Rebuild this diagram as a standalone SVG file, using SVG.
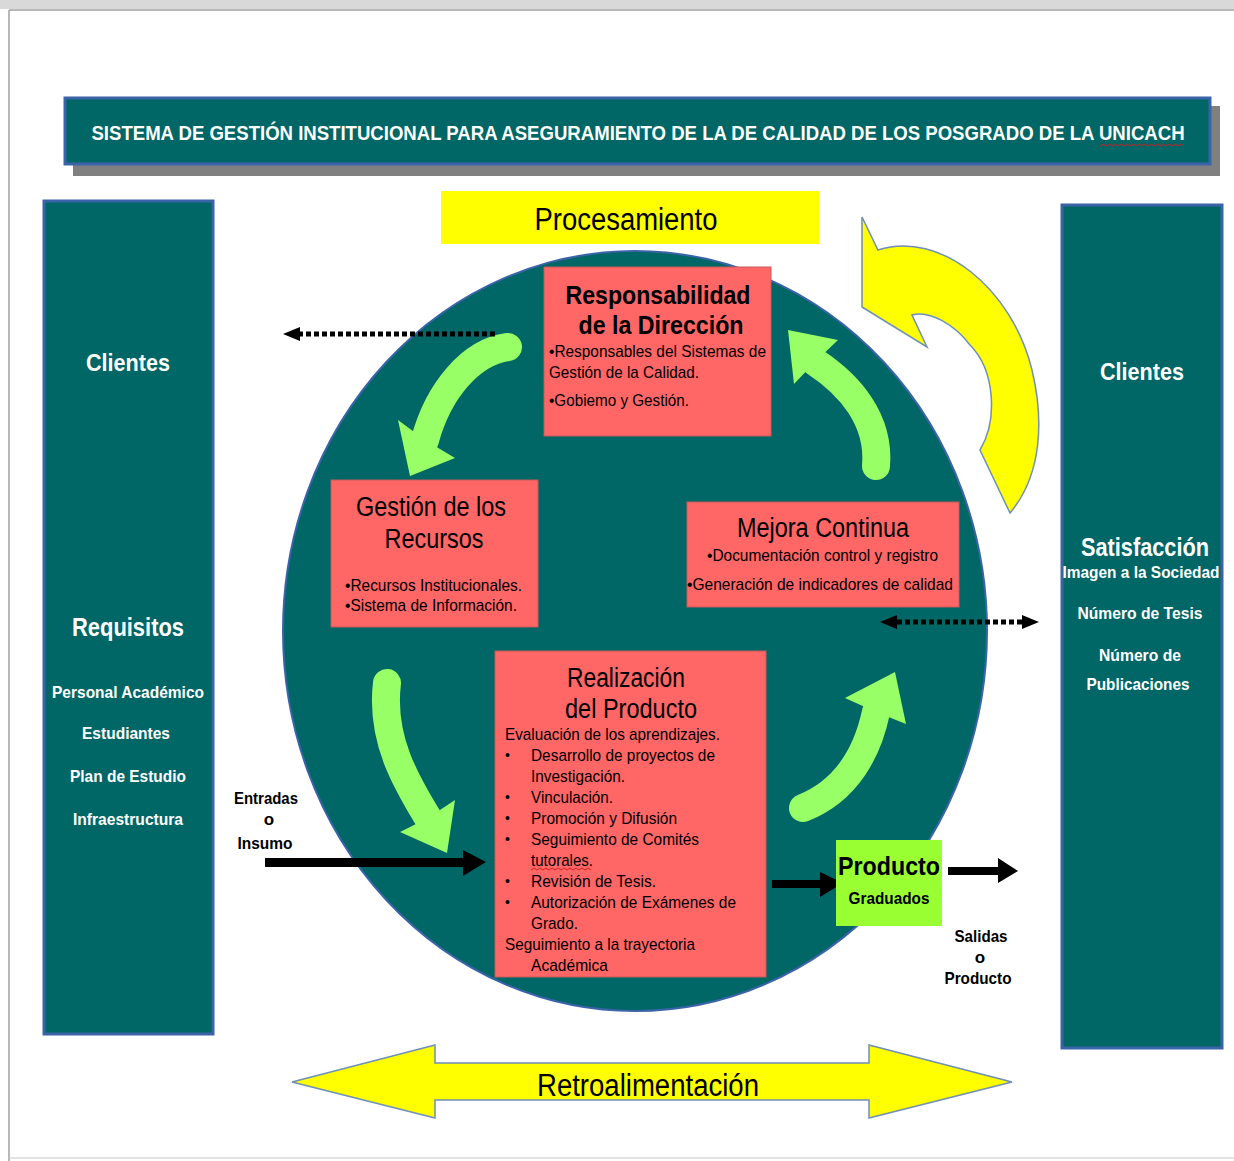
<svg xmlns="http://www.w3.org/2000/svg" width="1234" height="1161" viewBox="0 0 1234 1161">
<defs>
<style>
.panel{fill:#006666;stroke:#3b64a8;stroke-width:3}
.box{fill:#FF6666;stroke:#c85a5a;stroke-width:1}
.wb{font-family:"Liberation Sans",Arial,sans-serif;font-weight:bold;fill:#ffffff}
.kb{font-family:"Liberation Sans",Arial,sans-serif;font-weight:bold;fill:#000000}
.k{font-family:"Liberation Sans",Arial,sans-serif;fill:#000000}
.g{fill:none;stroke:#99FF66;stroke-width:28;stroke-linecap:round}
.gh{fill:#99FF66}
.dot{stroke:#000;stroke-width:5;stroke-dasharray:5 3;fill:none}
.sq{fill:none;stroke:#d02020;stroke-width:1}
</style>
</defs>
<rect x="0" y="0" width="1234" height="1161" fill="#ffffff"/>
<rect x="0" y="0" width="1234" height="9" fill="#d9d9d9"/>
<line x1="9" y1="10" x2="1234" y2="10" stroke="#a0a0a0" stroke-width="1.5"/>
<line x1="9" y1="10" x2="9" y2="1161" stroke="#a0a0a0" stroke-width="1.5"/>
<line x1="9" y1="1158" x2="1234" y2="1158" stroke="#c8c8c8" stroke-width="1"/>

<g id="title">
<rect x="73" y="106" width="1147" height="70" fill="#808080"/>
<rect x="65" y="98" width="1145" height="66" class="panel"/>
<text transform="translate(638,140) scale(0.82,1)" x="0" y="0" class="wb" font-size="21" text-anchor="middle" textLength="1333" lengthAdjust="spacingAndGlyphs">SISTEMA DE GESTIÓN INSTITUCIONAL PARA ASEGURAMIENTO DE LA DE CALIDAD DE LOS POSGRADO DE LA UNICACH</text>
<path class="sq" d="M1100,146 l3,-2 l3,2 l3,-2 l3,2 l3,-2 l3,2 l3,-2 l3,2 l3,-2 l3,2 l3,-2 l3,2 l3,-2 l3,2 l3,-2 l3,2 l3,-2 l3,2 l3,-2 l3,2 l3,-2 l3,2 l3,-2 l3,2 l3,-2 l3,2 l3,-2 l3,2"/>
</g>

<g id="procesamiento">
<rect x="441" y="191" width="378" height="53" fill="#FFFF00"/>
<text x="626" y="230" class="k" font-size="31" text-anchor="middle" textLength="183" lengthAdjust="spacingAndGlyphs">Procesamiento</text>
</g>

<g id="clientes-izq">
<rect x="44" y="201" width="169" height="833" class="panel"/>
<text x="128" y="371" class="wb" font-size="24" text-anchor="middle" textLength="84" lengthAdjust="spacingAndGlyphs">Clientes</text>
<text x="128" y="636" class="wb" font-size="26" text-anchor="middle" textLength="112" lengthAdjust="spacingAndGlyphs">Requisitos</text>
<text x="128" y="698" class="wb" font-size="17" text-anchor="middle" textLength="152" lengthAdjust="spacingAndGlyphs">Personal Académico</text>
<text x="126" y="739" class="wb" font-size="17" text-anchor="middle" textLength="88" lengthAdjust="spacingAndGlyphs">Estudiantes</text>
<text x="128" y="782" class="wb" font-size="17" text-anchor="middle" textLength="116" lengthAdjust="spacingAndGlyphs">Plan de Estudio</text>
<text x="128" y="825" class="wb" font-size="17" text-anchor="middle" textLength="110" lengthAdjust="spacingAndGlyphs">Infraestructura</text>
</g>

<g id="clientes-der">
<rect x="1062" y="205" width="160" height="843" class="panel"/>
<text x="1142" y="380" class="wb" font-size="24" text-anchor="middle" textLength="84" lengthAdjust="spacingAndGlyphs">Clientes</text>
<text x="1145" y="556" class="wb" font-size="26" text-anchor="middle" textLength="128" lengthAdjust="spacingAndGlyphs">Satisfacción</text>
<text x="1141" y="578" class="wb" font-size="17" text-anchor="middle" textLength="157" lengthAdjust="spacingAndGlyphs">Imagen a la Sociedad</text>
<text x="1140" y="619" class="wb" font-size="17" text-anchor="middle" textLength="125" lengthAdjust="spacingAndGlyphs">Número de Tesis</text>
<text x="1140" y="661" class="wb" font-size="17" text-anchor="middle" textLength="82" lengthAdjust="spacingAndGlyphs">Número de</text>
<text x="1138" y="690" class="wb" font-size="17" text-anchor="middle" textLength="103" lengthAdjust="spacingAndGlyphs">Publicaciones</text>
</g>

<g id="ciclo">
<ellipse cx="635" cy="631" rx="352" ry="380" fill="#006666" stroke="#3b64a8" stroke-width="2"/>
</g>

<g id="retroalimentacion">
<polygon points="292,1082 435,1045 435,1063 869,1063 869,1045 1012,1082 869,1118 869,1100 435,1100 435,1118" fill="#FFFF00" stroke="#6f8fb8" stroke-width="1.5"/>
<text x="648" y="1096" class="k" font-size="31" text-anchor="middle" textLength="222" lengthAdjust="spacingAndGlyphs">Retroalimentación</text>
</g>

<g id="connectors">
<path d="M862,217 L878,250 C940,230 1012,288 1032,370 C1044,420 1042,475 1010,513 L980,450 C998,420 995,370 970,345 C955,325 930,310 912,315 L927,347 L862,307 Z" fill="#FFFF00" stroke="#6f8fb8" stroke-width="1.5"/>
<path class="g" d="M508,347 C470,352 438,392 425,440"/>
<polygon class="gh" points="455,458 425,440 398,420 410,476"/>
<path class="g" d="M876,466 C880,420 850,385 815,362"/>
<polygon class="gh" points="838,340 815,362 794,384 788,330"/>
<path class="g" d="M387,683 C380,740 408,785 428,818"/>
<polygon class="gh" points="455,800 428,818 400,832 447,853"/>
<path class="g" d="M803,808 C848,790 868,750 876,712"/>
<polygon class="gh" points="906,724 876,712 845,698 895,672"/>
<line class="dot" x1="495" y1="334" x2="298" y2="334"/>
<polygon points="300,327 283,334 300,341" fill="#000"/>
<line class="dot" x1="897" y1="622" x2="1022" y2="622"/>
<polygon points="897,615 880,622 897,629" fill="#000"/>
<polygon points="1022,615 1039,622 1022,629" fill="#000"/>
<rect x="265" y="858" width="200" height="9" fill="#000"/>
<polygon points="463,850 486,862 463,876" fill="#000"/>
<rect x="772" y="880" width="50" height="8" fill="#000"/>
<polygon points="820,872 843,883 820,897" fill="#000"/>
<rect x="948" y="867" width="52" height="8" fill="#000"/>
<polygon points="998,858 1018,871 998,883" fill="#000"/>
</g>

<g id="responsabilidad">
<rect x="544" y="267" width="227" height="169" class="box" stroke="#3b64a8"/>
<text x="658" y="304" class="kb" font-size="26" text-anchor="middle" textLength="185" lengthAdjust="spacingAndGlyphs">Responsabilidad</text>
<text x="661" y="334" class="kb" font-size="26" text-anchor="middle" textLength="165" lengthAdjust="spacingAndGlyphs">de la Dirección</text>
<text x="549" y="357" class="k" font-size="17" textLength="217" lengthAdjust="spacingAndGlyphs">•Responsables del Sistemas de</text>
<text x="549" y="378" class="k" font-size="17" textLength="150" lengthAdjust="spacingAndGlyphs">Gestión de la Calidad.</text>
<text x="549" y="406" class="k" font-size="17" textLength="140" lengthAdjust="spacingAndGlyphs">•Gobiemo y Gestión.</text>
</g>

<g id="gestion-recursos">
<rect x="331" y="480" width="207" height="147" class="box"/>
<text x="431" y="516" class="k" font-size="27" text-anchor="middle" textLength="150" lengthAdjust="spacingAndGlyphs">Gestión de los</text>
<text x="434" y="548" class="k" font-size="27" text-anchor="middle" textLength="99" lengthAdjust="spacingAndGlyphs">Recursos</text>
<text x="345" y="591" class="k" font-size="17" textLength="177" lengthAdjust="spacingAndGlyphs">•Recursos Institucionales.</text>
<text x="345" y="611" class="k" font-size="17" textLength="172" lengthAdjust="spacingAndGlyphs">•Sistema de Información.</text>
</g>

<g id="mejora-continua">
<rect x="687" y="502" width="272" height="105" class="box"/>
<text x="823" y="537" class="k" font-size="27" text-anchor="middle" textLength="172" lengthAdjust="spacingAndGlyphs">Mejora Continua</text>
<text x="707" y="561" class="k" font-size="17" textLength="231" lengthAdjust="spacingAndGlyphs">•Documentación control y registro</text>
<text x="687" y="590" class="k" font-size="17" textLength="266" lengthAdjust="spacingAndGlyphs">•Generación de indicadores de calidad</text>
</g>

<g id="realizacion-producto">
<rect x="495" y="651" width="271" height="326" class="box"/>
<text x="626" y="687" class="k" font-size="27" text-anchor="middle" textLength="118" lengthAdjust="spacingAndGlyphs">Realización</text>
<text x="631" y="718" class="k" font-size="27" text-anchor="middle" textLength="132" lengthAdjust="spacingAndGlyphs">del Producto</text>
<text x="505" y="740" class="k" font-size="17" textLength="215" lengthAdjust="spacingAndGlyphs">Evaluación de los aprendizajes.</text>
<g class="k" font-size="14">
<text x="505" y="760">•</text><text x="505" y="802">•</text><text x="505" y="823">•</text><text x="505" y="844">•</text><text x="505" y="886">•</text><text x="505" y="907">•</text>
</g>
<text x="531" y="761" class="k" font-size="17" textLength="184" lengthAdjust="spacingAndGlyphs">Desarrollo de proyectos de</text>
<text x="531" y="782" class="k" font-size="17" textLength="94" lengthAdjust="spacingAndGlyphs">Investigación.</text>
<text x="531" y="803" class="k" font-size="17" textLength="82" lengthAdjust="spacingAndGlyphs">Vinculación.</text>
<text x="531" y="824" class="k" font-size="17" textLength="146" lengthAdjust="spacingAndGlyphs">Promoción y Difusión</text>
<text x="531" y="845" class="k" font-size="17" textLength="168" lengthAdjust="spacingAndGlyphs">Seguimiento de Comités</text>
<text x="531" y="866" class="k" font-size="17" textLength="62" lengthAdjust="spacingAndGlyphs">tutorales.</text>
<path class="sq" d="M531,870 l3,-2 l3,2 l3,-2 l3,2 l3,-2 l3,2 l3,-2 l3,2 l3,-2 l3,2 l3,-2 l3,2 l3,-2 l3,2 l3,-2 l3,2 l3,-2 l3,2 l3,-2 l3,2"/>
<text x="531" y="887" class="k" font-size="17" textLength="125" lengthAdjust="spacingAndGlyphs">Revisión de Tesis.</text>
<text x="531" y="908" class="k" font-size="17" textLength="205" lengthAdjust="spacingAndGlyphs">Autorización de Exámenes de</text>
<text x="531" y="929" class="k" font-size="17" textLength="47" lengthAdjust="spacingAndGlyphs">Grado.</text>
<text x="505" y="950" class="k" font-size="17" textLength="190" lengthAdjust="spacingAndGlyphs">Seguimiento a la trayectoria</text>
<text x="531" y="971" class="k" font-size="17" textLength="77" lengthAdjust="spacingAndGlyphs">Académica</text>
</g>

<g id="producto">
<rect x="836" y="840" width="106" height="86" fill="#99FF33"/>
<text x="889" y="875" class="kb" font-size="26" text-anchor="middle" textLength="102" lengthAdjust="spacingAndGlyphs">Producto</text>
<text x="889" y="904" class="kb" font-size="17" text-anchor="middle" textLength="81" lengthAdjust="spacingAndGlyphs">Graduados</text>
</g>

<g id="entradas">
<text x="266" y="804" class="kb" font-size="17" text-anchor="middle" textLength="64" lengthAdjust="spacingAndGlyphs">Entradas</text>
<text x="269" y="825" class="kb" font-size="17" text-anchor="middle">o</text>
<text x="265" y="849" class="kb" font-size="17" text-anchor="middle" textLength="55" lengthAdjust="spacingAndGlyphs">Insumo</text>
</g>

<g id="salidas">
<text x="981" y="942" class="kb" font-size="17" text-anchor="middle" textLength="53" lengthAdjust="spacingAndGlyphs">Salidas</text>
<text x="980" y="963" class="kb" font-size="17" text-anchor="middle">o</text>
<text x="978" y="984" class="kb" font-size="17" text-anchor="middle" textLength="67" lengthAdjust="spacingAndGlyphs">Producto</text>
</g>
</svg>
